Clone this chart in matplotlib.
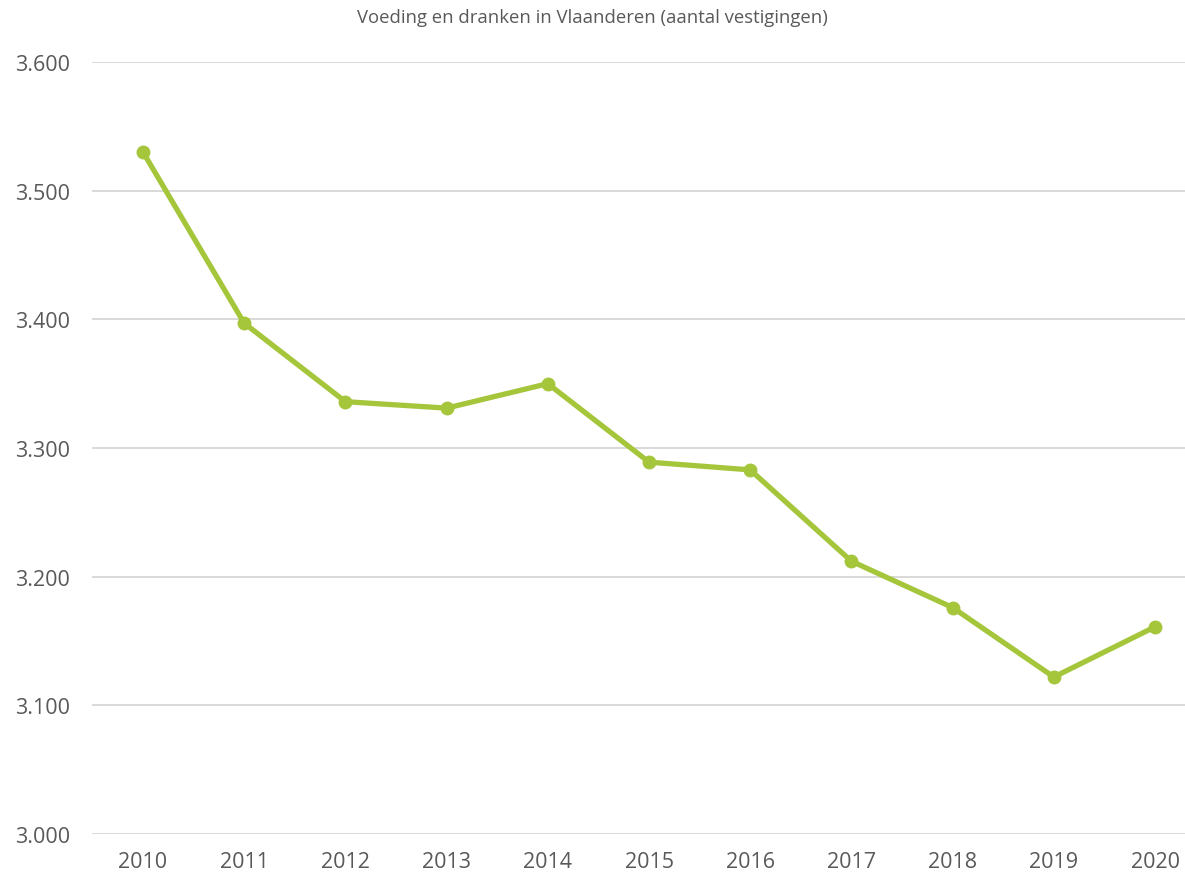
import matplotlib
matplotlib.use('Agg')
import matplotlib.pyplot as plt
from matplotlib.ticker import FuncFormatter

# data
years = ['2010', '2011', '2012', '2013', '2014', '2015', '2016', '2017', '2018', '2019', '2020']
vestigingen = [3530, 3397, 3336, 3331, 3350, 3289, 3283, 3212, 3176, 3122, 3161]
y_ticks = [3000, 3100, 3200, 3300, 3400, 3500, 3600]

title = 'Voeding en dranken in Vlaanderen (aantal vestigingen)'
line_color = '#A5C63B'
text_color = '#595959'
grid_color = '#D9D9D9'

plt.rcParams['font.family'] = ['Open Sans', 'DejaVu Sans']

fig = plt.figure(figsize=(11.85, 8.78), dpi=100)
ax = fig.add_axes([92 / 1185, 1 - 835 / 878, 1 - 92 / 1185, (835 - 63) / 878])

x = list(range(len(years)))
ax.plot(x, vestigingen, color=line_color, linewidth=3.8, marker='o',
        markersize=9, solid_capstyle='round', zorder=3)

ax.set_ylim(3000, 3600)
ax.set_xlim(-0.504, 10.296)
ax.set_yticks(y_ticks)
ax.yaxis.set_major_formatter(FuncFormatter(lambda v, p: f'{int(v):,}'.replace(',', '.')))
ax.set_xticks(x)
ax.set_xticklabels(years)

ax.grid(axis='y', color=grid_color, linewidth=1.4)
ax.set_axisbelow(True)
for s in ax.spines.values():
    s.set_visible(False)
ax.tick_params(length=0, labelsize=15.5, colors=text_color)
ax.tick_params(axis='y', pad=16)
ax.tick_params(axis='x', pad=12)

fig.text(0.5, 1 - 18 / 878, title, ha='center', va='center', fontsize=13.3, color=text_color)

fig.savefig('out.png', dpi=100)
